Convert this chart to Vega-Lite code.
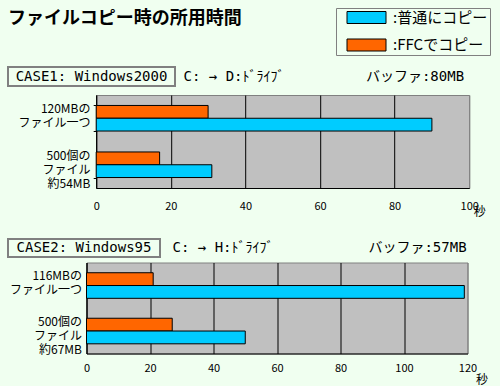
{
  "$schema": "https://vega.github.io/schema/vega-lite/v6.json",
  "background": "#F0FFF0",
  "padding": {"left": 7, "top": 7, "right": 0, "bottom": 0},
  "title": {"text": "ファイルコピー時の所用時間", "anchor": "start", "frame": "group", "fontSize": 18, "font": "Noto Sans CJK JP", "fontWeight": "bold", "color": "black", "offset": -20},
  "config": {
    "font": "Noto Sans CJK JP",
    "view": {"stroke": null},
    "text": {"color": "black"}
  },
  "datasets": {
    "headers": [
      {"panel": 1, "part": "case", "label": "CASE1:  Windows2000"},
      {"panel": 1, "part": "route", "label": "C: → D:ﾄﾞﾗｲﾌﾞ"},
      {"panel": 1, "part": "buffer", "label": "バッファ:80MB"},
      {"panel": 2, "part": "case", "label": "CASE2:  Windows95"},
      {"panel": 2, "part": "route", "label": "C: → H:ﾄﾞﾗｲﾌﾞ"},
      {"panel": 2, "part": "buffer", "label": "バッファ:57MB"}
    ],
    "case1": [
      {"file": "120MBの|ファイル一つ", "method": "FFCでコピー", "seconds": 30},
      {"file": "120MBの|ファイル一つ", "method": "普通にコピー", "seconds": 90},
      {"file": "500個の|ファイル|約54MB", "method": "FFCでコピー", "seconds": 17},
      {"file": "500個の|ファイル|約54MB", "method": "普通にコピー", "seconds": 31}
    ],
    "case2": [
      {"file": "116MBの|ファイル一つ", "method": "FFCでコピー", "seconds": 21},
      {"file": "116MBの|ファイル一つ", "method": "普通にコピー", "seconds": 119},
      {"file": "500個の|ファイル|約67MB", "method": "FFCでコピー", "seconds": 27},
      {"file": "500個の|ファイル|約67MB", "method": "普通にコピー", "seconds": 50}
    ]
  },
  "spacing": 20,
  "vconcat": [
    {
      "spacing": 7,
      "vconcat": [
        {
          "spacing": 0,
          "hconcat": [
            {
              "width": 167, "height": 19,
              "view": {"stroke": "#808080", "strokeWidth": 2},
              "data": {"name": "headers"},
              "transform": [{"filter": "datum.panel === 1 && datum.part === 'case'"}],
              "mark": {"type": "text", "font": "DejaVu Sans Mono, Noto Sans CJK JP", "fontSize": 14, "color": "black"},
              "encoding": {"text": {"field": "label"}}
            },
            {
              "width": 116, "height": 19,
              "data": {"name": "headers"},
              "transform": [{"filter": "datum.panel === 1 && datum.part === 'route'"}],
              "mark": {"type": "text", "font": "DejaVu Sans Mono, Noto Sans CJK JP", "fontSize": 14, "color": "black"},
              "encoding": {"text": {"field": "label"}}
            },
            {
              "width": 246, "height": 19,
              "data": {"name": "headers"},
              "transform": [{"filter": "datum.panel === 1 && datum.part === 'buffer'"}],
              "mark": {"type": "text", "font": "DejaVu Sans Mono, Noto Sans CJK JP", "fontSize": 14, "color": "black"},
              "encoding": {"text": {"field": "label"}}
            }
          ]
        },
        {
          "spacing": 1.2,
          "hconcat": [
            {
              "width": 0, "height": 93,
              "data": {"name": "case1"},
              "transform": [{"filter": "datum.method === '普通にコピー'"}],
              "mark": {"type": "text", "align": "right", "baseline": "top", "dx": 72.5, "dy": -14, "lineBreak": "|", "lineHeight": 14, "fontSize": 12, "color": "black"},
              "encoding": {
                "y": {"field": "file", "type": "nominal", "sort": null, "scale": {"paddingInner": 0.45, "paddingOuter": 0.225}, "axis": null},
                "text": {"field": "file"}
              }
            },
            {
              "width": 373, "height": 93,
              "view": {"fill": "#C0C0C0", "stroke": "#808080"},
              "data": {"name": "case1"},
              "mark": {"type": "bar", "stroke": "black", "strokeWidth": 1},
              "encoding": {
                "y": {
                  "field": "file", "type": "nominal", "sort": null,
                  "scale": {"paddingInner": 0.45, "paddingOuter": 0.225},
                  "axis": {"title": null, "domainColor": "black", "tickBand": "extent", "ticks": true, "tickColor": "black", "tickSize": 3, "labels": false, "grid": false, "minExtent": 0}
                },
                "yOffset": {"field": "method", "type": "nominal", "sort": ["FFCでコピー", "普通にコピー"], "scale": {"paddingInner": 0, "paddingOuter": 0}},
                "x": {
                  "field": "seconds", "type": "quantitative",
                  "scale": {"domain": [0, 100]},
                  "axis": {"title": "秒", "titleX": 383, "titleY": 23, "titleAlign": "center", "titleBaseline": "middle", "titleFontSize": 12, "titleFontWeight": "normal", "titleColor": "black", "values": [0, 20, 40, 60, 80, 100], "grid": true, "gridColor": {"condition": {"test": "datum.value === 100", "value": "#808080"}, "value": "black"}, "gridOpacity": 1, "ticks": false, "labelPadding": 12, "labelFontSize": 11, "labelColor": "black", "domainColor": "black", "labelFlush": false}
                },
                "color": {
                  "field": "method", "type": "nominal",
                  "scale": {"domain": ["普通にコピー", "FFCでコピー"], "range": ["#00CCFF", "#FF6600"]},
                  "legend": {"orient": "none", "legendX": 328, "legendY": -59, "title": null, "strokeColor": "#808080", "padding": 2, "symbolType": "M-3,-0.923H3V0.923H-3Z", "symbolSize": 169, "symbolOffset": 21, "symbolStrokeColor": "black", "symbolStrokeWidth": 1, "symbolOpacity": 1, "labelFontSize": 15, "labelColor": "black", "labelOffset": 19, "rowPadding": 10.5, "labelExpr": "':' + datum.label"}
                }
              }
            }
          ]
        }
      ]
    },
    {
      "spacing": 3.5,
      "vconcat": [
        {
          "spacing": 0,
          "hconcat": [
            {
              "width": 152, "height": 18,
              "view": {"stroke": "#808080", "strokeWidth": 2},
              "data": {"name": "headers"},
              "transform": [{"filter": "datum.panel === 2 && datum.part === 'case'"}],
              "mark": {"type": "text", "font": "DejaVu Sans Mono, Noto Sans CJK JP", "fontSize": 14, "color": "black"},
              "encoding": {"text": {"field": "label"}}
            },
            {
              "width": 124, "height": 18,
              "data": {"name": "headers"},
              "transform": [{"filter": "datum.panel === 2 && datum.part === 'route'"}],
              "mark": {"type": "text", "font": "DejaVu Sans Mono, Noto Sans CJK JP", "fontSize": 14, "color": "black"},
              "encoding": {"text": {"field": "label"}}
            },
            {
              "width": 265, "height": 18,
              "data": {"name": "headers"},
              "transform": [{"filter": "datum.panel === 2 && datum.part === 'buffer'"}],
              "mark": {"type": "text", "font": "DejaVu Sans Mono, Noto Sans CJK JP", "fontSize": 14, "color": "black"},
              "encoding": {"text": {"field": "label"}}
            }
          ]
        },
        {
          "spacing": 0.5,
          "hconcat": [
            {
              "width": 0, "height": 91,
              "data": {"name": "case2"},
              "transform": [{"filter": "datum.method === '普通にコピー'"}],
              "mark": {"type": "text", "align": "right", "baseline": "middle", "dx": 64, "dy": -9, "lineBreak": "|", "lineHeight": 14, "fontSize": 12, "color": "black"},
              "encoding": {
                "y": {"field": "file", "type": "nominal", "sort": null, "scale": {"paddingInner": 0.45, "paddingOuter": 0.225}, "axis": null},
                "text": {"field": "file"}
              }
            },
            {
              "width": 381, "height": 91,
              "view": {"fill": "#C0C0C0", "stroke": "#808080"},
              "data": {"name": "case2"},
              "mark": {"type": "bar", "stroke": "black", "strokeWidth": 1},
              "encoding": {
                "y": {
                  "field": "file", "type": "nominal", "sort": null,
                  "scale": {"paddingInner": 0.45, "paddingOuter": 0.225},
                  "axis": {"title": null, "domainColor": "black", "ticks": false, "labels": false, "grid": false, "minExtent": 0}
                },
                "yOffset": {"field": "method", "type": "nominal", "sort": ["FFCでコピー", "普通にコピー"], "scale": {"paddingInner": 0, "paddingOuter": 0}},
                "x": {
                  "field": "seconds", "type": "quantitative",
                  "scale": {"domain": [0, 120]},
                  "axis": {"title": "秒", "titleX": 395, "titleY": 26, "titleAlign": "center", "titleBaseline": "middle", "titleFontSize": 12, "titleFontWeight": "normal", "titleColor": "black", "values": [0, 20, 40, 60, 80, 100, 120], "grid": true, "gridColor": {"condition": {"test": "datum.value === 120", "value": "#808080"}, "value": "black"}, "gridOpacity": 1, "ticks": false, "labelPadding": 9, "labelFontSize": 11, "labelColor": "black", "domainColor": "black", "labelFlush": false}
                },
                "color": {"field": "method", "type": "nominal"}
              }
            }
          ]
        }
      ]
    }
  ]
}
